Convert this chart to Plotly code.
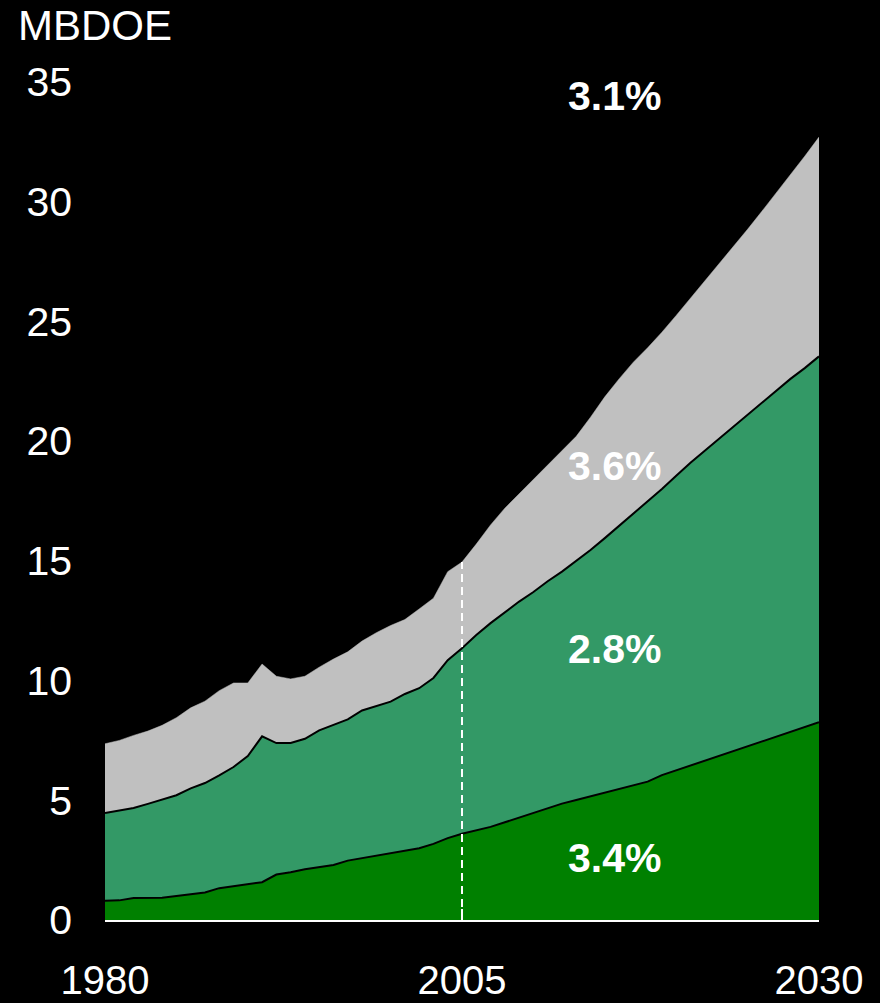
import plotly.graph_objects as go

years = list(range(1980, 2031))

# cumulative boundaries (MBDOE)
bottom_layer = [0.80, 0.82, 0.92, 0.93, 0.93, 1.00, 1.08, 1.15, 1.33, 1.42,
                1.50, 1.58, 1.90, 1.99, 2.12, 2.22, 2.30, 2.48, 2.58, 2.68,
                2.80, 2.90, 3.00, 3.18, 3.42, 3.60, 3.75, 3.89, 4.08, 4.27,
                4.46, 4.66, 4.86, 5.01, 5.16, 5.31, 5.46, 5.61, 5.78, 6.05,
                6.25, 6.45, 6.65, 6.85, 7.05, 7.25, 7.45, 7.65, 7.85, 8.05, 8.26]

middle_top = [4.47, 4.58, 4.68, 4.85, 5.03, 5.21, 5.50, 5.72, 6.04, 6.39,
              6.85, 7.67, 7.39, 7.39, 7.57, 7.92, 8.15, 8.38, 8.75, 8.95,
              9.12, 9.44, 9.68, 10.11, 10.85, 11.35, 11.90, 12.40, 12.85, 13.30,
              13.70, 14.15, 14.55, 15.00, 15.45, 15.95, 16.46, 16.95, 17.45, 18.00,
              18.55, 19.10, 19.60, 20.10, 20.60, 21.10, 21.60, 22.10, 22.60, 23.05, 23.54]

total_top = [7.36, 7.50, 7.71, 7.89, 8.13, 8.45, 8.86, 9.14, 9.58, 9.90,
             9.90, 10.69, 10.18, 10.07, 10.18, 10.56, 10.90, 11.20, 11.65, 12.00,
             12.30, 12.55, 12.99, 13.44, 14.55, 14.95, 15.70, 16.50, 17.20, 17.80,
             18.40, 19.00, 19.60, 20.20, 21.00, 21.85, 22.60, 23.30, 23.90, 24.55,
             25.25, 25.97, 26.70, 27.40, 28.10, 28.85, 29.60, 30.35, 31.10, 31.90, 32.70]

growth_labels = ["3.1%", "3.6%", "2.8%", "3.4%"]
growth_y = [34.4, 18.96, 11.33, 2.58]
label_x = 2015.7

x_ticks = [1980, 2005, 2030]
y_ticks = [0, 5, 10, 15, 20, 25, 30, 35]

FONT = "Liberation Sans, Arial, sans-serif"

fig = go.Figure()
fig.add_trace(go.Scatter(x=years, y=bottom_layer, mode="lines", fill="tozeroy",
                         fillcolor="#008000", line=dict(color="black", width=2),
                         hoverinfo="skip"))
fig.add_trace(go.Scatter(x=years, y=middle_top, mode="lines", fill="tonexty",
                         fillcolor="#339966", line=dict(color="black", width=2),
                         hoverinfo="skip"))
fig.add_trace(go.Scatter(x=years, y=total_top, mode="lines", fill="tonexty",
                         fillcolor="#C0C0C0", line=dict(color="#C0C0C0", width=0.5),
                         hoverinfo="skip"))

# dashed divider at 2005
fig.add_shape(type="line", x0=2005, x1=2005, y0=0, y1=total_top[years.index(2005)],
              xref="x", yref="y", line=dict(color="white", width=2, dash="8px,5px"))

for txt, yv in zip(growth_labels, growth_y):
    fig.add_annotation(x=label_x, y=yv, xref="x", yref="y", text=f"<b>{txt}</b>",
                       showarrow=False, font=dict(family=FONT, size=41, color="white"))

fig.add_annotation(x=-0.125, y=1.067, xref="paper", yref="paper", text="MBDOE",
                   showarrow=False, xanchor="left", yanchor="middle",
                   font=dict(family=FONT, size=42, color="white"))

fig.update_layout(
    width=880, height=1003,
    paper_bgcolor="black", plot_bgcolor="black",
    margin=dict(l=105, r=61, t=82, b=83, autoexpand=False),
    showlegend=False,
    font=dict(family=FONT, size=41, color="white"),
    xaxis=dict(range=[1980, 2030], tickvals=x_ticks, ticktext=[str(v) for v in x_ticks],
               showgrid=False, zeroline=False, showline=True, linecolor="white", linewidth=2,
               ticks="inside", ticklen=11, tickwidth=2, tickcolor="white", automargin=False,
               layer="above traces",
               ticklabelstandoff=24, tickfont=dict(family=FONT, size=40, color="white")),
    yaxis=dict(range=[0, 35], tickvals=y_ticks, showgrid=False, zeroline=False,
               showline=False, ticks="", ticklabelstandoff=32, automargin=False,
               tickfont=dict(family=FONT, size=41, color="white")),
)

fig.write_html("out.html", config={"displayModeBar": False, "staticPlot": True},
               post_script="document.body.style.margin='0';document.body.style.background='black';document.body.style.overflow='hidden';")
